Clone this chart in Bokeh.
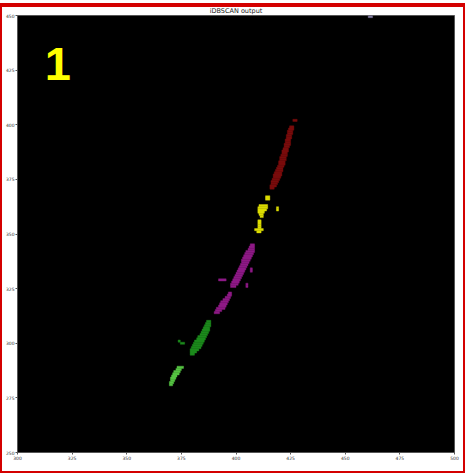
from bokeh.plotting import figure
from bokeh.models import Range1d, FixedTicker, Label, ColumnDataSource
from bokeh.embed import file_html
from bokeh.resources import INLINE

title_text = "iDBSCAN output"
x_ticks = [300, 325, 350, 375, 400, 425, 450, 475, 500]
y_ticks = [250, 275, 300, 325, 350, 375, 400, 425, 450]
event_label = "1"

# cluster: dark red
red_y = [402, 399, 398, 397, 396, 395, 394, 393, 392, 391, 390, 389, 388, 387, 386,
         385, 384, 383, 382, 381, 380, 379, 378, 377, 376, 375, 374, 373, 372, 371]
red_left = [426, 424.5, 424, 423.5, 423.5, 423, 423, 422.5, 422.5, 422, 422, 421.5, 421, 421, 420.5,
            420, 420, 419.5, 419.5, 419, 418.5, 418, 417.5, 417, 417, 416.5, 416, 416, 415.5, 415.5]
red_right = [428, 426.5, 426.5, 426, 426, 425.5, 425.5, 425, 425, 425, 424.5, 424, 424, 423.5, 423.5,
             423, 423, 422.5, 422.5, 422, 421.5, 421.5, 421, 421, 420.5, 420, 419.5, 419, 418.5, 417.5]

# cluster: yellow
yel_y = [367, 366, 363, 362, 361, 360, 359, 358, 362, 361, 356, 355, 354, 353, 352, 351]
yel_left = [413.5, 413.5, 410.5, 410, 410, 410, 410.5, 411, 418.5, 418.5, 410, 410, 410, 410, 408.5, 409.5]
yel_right = [415.5, 415.5, 414.5, 414.5, 414, 413, 412.5, 412.5, 419.5, 419.5, 411.5, 411.5, 411.5, 411.5, 412.5, 411.5]

# cluster: purple
pur_y = [345, 344, 343, 342, 341, 340, 339, 338, 337, 336, 335, 334, 333, 332, 331, 330, 329, 328, 327, 326,
         334, 333, 329, 327, 326,
         323, 322, 321, 320, 319, 318, 317, 316, 315, 314]
pur_left = [406.5, 406, 405.5, 404.5, 404, 403.5, 403, 402.5, 402.5, 402, 401.5, 401, 400.5, 400, 399.5, 399, 398.5, 398, 397.5, 397.5,
            406.5, 406.5, 392, 404.5, 404.5,
            396.5, 396, 395, 394, 393, 392.5, 392, 391, 390.5, 390]
pur_right = [408.5, 408.5, 408.5, 408.5, 408, 407.5, 407, 406.5, 406, 405.5, 405, 404.5, 404, 403.5, 403, 402.5, 402, 401.5, 401, 400,
             407.5, 407.5, 395.5, 405.5, 405.5,
             398, 398, 397.5, 397, 396.5, 396, 395.5, 395, 393.5, 392.5]

# cluster: dark green
dgr_y = [310, 309, 308, 307, 306, 305, 304, 303, 302, 301, 300, 299, 298, 297, 296, 295, 301, 300]
dgr_left = [386.5, 386, 385.5, 385, 384.5, 384, 383.5, 382.5, 382, 381, 380.5, 380, 379.5, 379, 379, 379, 373.5, 374.5]
dgr_right = [388.5, 388.5, 388.5, 388, 388, 387.5, 387, 386.5, 386, 385.5, 385, 384.5, 384, 383, 382, 381, 374.5, 376.5]

# cluster: light green
lgr_y = [289, 288, 287, 286, 285, 284, 283, 282, 281]
lgr_left = [373, 372.5, 371.5, 371, 370.5, 370, 370, 369.5, 369.5]
lgr_right = [376, 375, 374.5, 374, 373, 372.5, 372, 371.5, 371]

# noise hit at the top edge
noise_y = [449.5]
noise_left = [460.5]
noise_right = [462.5]

clusters = [
    (red_y, red_left, red_right, "#7a0c0c"),
    (yel_y, yel_left, yel_right, "#dcdc00"),
    (pur_y, pur_left, pur_right, "#8e1a86"),
    (dgr_y, dgr_left, dgr_right, "#1c8a1c"),
    (lgr_y, lgr_left, lgr_right, "#56c443"),
    (noise_y, noise_left, noise_right, "#7f7a9e"),
]

p = figure(width=461, height=464, output_backend="svg", toolbar_location=None, title=None,
           x_range=Range1d(300, 500), y_range=Range1d(250, 450),
           min_border_left=14, min_border_right=9, min_border_top=7, min_border_bottom=19)
p.styles = {"position": "absolute", "left": "2px", "top": "7px",
            "box-shadow": "0 0 0 2px #d40000, 0 -2px 0 2px #d40000"}

p.background_fill_color = "black"
p.border_fill_color = "white"
p.outline_line_color = "#555555"
p.outline_line_width = 1
p.xgrid.visible = False
p.ygrid.visible = False

for ax, ticks in ((p.xaxis, x_ticks), (p.yaxis, y_ticks)):
    ax.ticker = FixedTicker(ticks=ticks)
    ax.major_label_text_font = "DejaVu Sans"
    ax.major_label_text_font_size = "4.5px"
    ax.major_label_text_color = "#333333"
    ax.major_tick_out = 2
    ax.major_tick_in = 0
    ax.minor_tick_out = 0
    ax.minor_tick_in = 0
    ax.major_label_standoff = 1
    ax.axis_line_color = "#555555"
    ax.major_tick_line_color = "#555555"

for ys, ls, rs, col in clusters:
    src = ColumnDataSource(dict(y=ys, left=ls, right=rs))
    p.hbar(y="y", left="left", right="right", height=1, source=src,
           fill_color=col, line_color=col, line_width=0.4)

# title drawn as an unclipped label in the top margin
p.add_layout(Label(x=400, y=451.9, text=title_text, text_font="DejaVu Sans",
                   text_font_size="6.5px", text_color="#222222",
                   text_align="center", text_baseline="middle"), "above")

p.add_layout(Label(x=312.5, y=428.0, text=event_label, text_font="Liberation Sans",
                   text_font_style="bold", text_font_size="47px", text_color="#ffff00",
                   text_baseline="alphabetic"))

open("out.html", "w").write(file_html(p, INLINE))
